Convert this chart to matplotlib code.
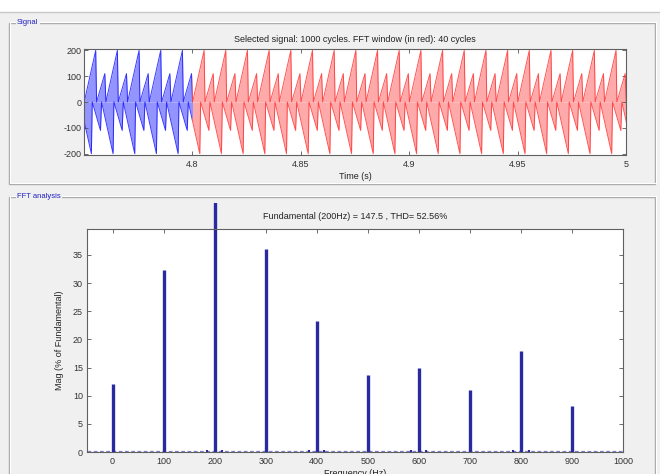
import numpy as np
import matplotlib
matplotlib.use("Agg")
import matplotlib.pyplot as plt
from matplotlib.patches import Rectangle

plt.rcParams["font.family"] = ["Liberation Sans", "DejaVu Sans"]
plt.rcParams["axes.unicode_minus"] = False

# one 10 ms cycle of the signal envelope (phase 0 = big spike)
up_phase = [0.0, 0.04, 0.42, 0.47, 1.0]
up_vals = [200, 0, 110, 0, 200]
low_phase = [0.0, 0.04, 0.42, 0.47, 1.0]
low_vals = [-200, 0, -110, 0, -200]
period = 0.01
first_peak = 4.7554      # first big positive spike
low_shift = -0.002       # big negative spike comes slightly earlier
n_cycles = 26
fft_start = 4.8

# FFT spectrum (% of fundamental)
harm_freq = [0, 100, 200, 300, 400, 500, 600, 700, 800, 900]
harm_mag = [12.0, 32.3, 100.0, 36.0, 23.3, 13.6, 15.0, 11.0, 17.9, 8.2]
side_freq = [185, 215, 385, 415, 585, 615, 785, 815]
side_mag = [0.4, 0.4, 0.4, 0.4, 0.4, 0.4, 0.4, 0.4]
noise_floor = 0.25

W, H = 660, 474
fig = plt.figure(figsize=(W / 100, H / 100), dpi=100)
fig.patch.set_facecolor("#f0f0f0")


def fx(px):
    return px / W


def fy(py):
    return 1 - py / H


# window chrome + group boxes
fig.add_artist(Rectangle((0, fy(12)), 1, 12 / H, transform=fig.transFigure,
                         facecolor="white", edgecolor="none"))
fig.add_artist(plt.Line2D([0, 1], [fy(12), fy(12)], transform=fig.transFigure,
                          color="#c8c8c8", lw=1))
for top, bot, label in [(23, 184, "Signal"), (197, 480, "FFT analysis")]:
    fig.add_artist(Rectangle((fx(9), fy(bot)), fx(655 - 9), (bot - top) / H,
                             transform=fig.transFigure, fill=False,
                             edgecolor="#a8a8a8", lw=1))
    fig.add_artist(Rectangle((fx(10), fy(bot) + 1 / H), fx(655 - 9), (bot - top) / H,
                             transform=fig.transFigure, fill=False,
                             edgecolor="white", lw=0.8))
    fig.text(fx(17), fy(top), label, color="#2020c0", fontsize=5.5,
             va="center", ha="left",
             bbox=dict(facecolor="#f0f0f0", edgecolor="none", pad=1))


def style(ax):
    ax.set_facecolor("white")
    ax.tick_params(direction="in", top=True, right=True, length=3,
                   labelsize=6.5, color="#555555", labelcolor="#333333", width=0.6)
    for s in ax.spines.values():
        s.set_color("#606060")
        s.set_linewidth(0.8)


# ---- signal panel
ax1 = fig.add_axes([fx(84), fy(155), fx(626 - 84), (155 - 49) / H])
style(ax1)

t_up = np.concatenate([first_peak + (k + np.array(up_phase)) * period
                       for k in range(-1, n_cycles)])
v_up = np.tile(up_vals, n_cycles + 1)
t_low = np.concatenate([first_peak + low_shift + (k + np.array(low_phase)) * period
                        for k in range(-1, n_cycles)])
v_low = np.tile(low_vals, n_cycles + 1)

parts = [("#ffaaaa", "#ff2a2a", (fft_start, 5.0)),
         ("#9494ff", "#0c0cff", (4.75, fft_start))]
for light, dark, (a, b) in parts:
    clip = Rectangle((a, -300), b - a, 600, transform=ax1.transData)
    arts = [ax1.fill_between(t_up, 0, v_up, color=light, lw=0),
            ax1.fill_between(t_low, v_low, 0, color=light, lw=0)]
    arts += ax1.plot(t_up, v_up, color=dark, lw=0.7, alpha=0.8)
    arts += ax1.plot(t_low, v_low, color=dark, lw=0.7, alpha=0.8)
    for art in arts:
        art.set_clip_path(clip)

ax1.set_xlim(4.75, 5.0)
ax1.set_ylim(-205, 205)
ax1.set_xticks([4.8, 4.85, 4.9, 4.95, 5.0])
ax1.set_xticklabels(["4.8", "4.85", "4.9", "4.95", "5"])
ax1.set_yticks([-200, -100, 0, 100, 200])
ax1.tick_params(axis="y", pad=2)
ax1.set_title("Selected signal: 1000 cycles. FFT window (in red): 40 cycles",
              fontsize=6.5, color="#222222", pad=5)
ax1.set_xlabel("Time (s)", fontsize=6.5, color="#222222", labelpad=2)

# ---- FFT panel
ax2 = fig.add_axes([fx(87), fy(452), fx(623 - 87), (452 - 229) / H])
style(ax2)
bar_color = "#2a2aa0"
bars = ax2.vlines(harm_freq, 0, harm_mag, colors=bar_color, lw=2.4)
bars.set_clip_path(Rectangle((0, 0), 1, fy(203), transform=fig.transFigure))
ax2.vlines(side_freq, 0, side_mag, colors=bar_color, lw=1.5)
ax2.axhline(noise_floor, color=bar_color, lw=0.9, ls=(0, (3, 2)), alpha=0.6)
ax2.set_xlim(-50, 1000)
ax2.set_ylim(0, max(harm_mag[:2] + harm_mag[3:]) * 1.1)
ax2.set_xticks(range(0, 1001, 100))
ax2.set_yticks(range(0, 36, 5))
ax2.tick_params(axis="y", pad=3)
ax2.set_title("Fundamental (200Hz) = 147.5 , THD= 52.56%",
              fontsize=6.5, color="#222222", pad=7)
ax2.set_xlabel("Frequency (Hz)", fontsize=6.5, color="#222222", labelpad=2)
ax2.set_ylabel("Mag (% of Fundamental)", fontsize=6.5, color="#222222", labelpad=6)

fig.savefig("out.png", dpi=100, facecolor=fig.get_facecolor())
